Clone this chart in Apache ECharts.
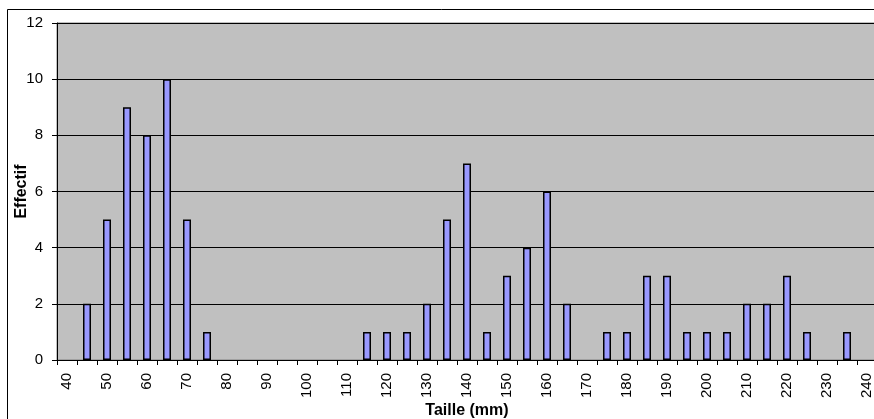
<!DOCTYPE html>
<html>
<head>
<meta charset="utf-8">
<script src="https://cdn.jsdelivr.net/npm/echarts@6/dist/echarts.min.js"></script>
<style>html,body{margin:0;padding:0;background:#fff;}#c{width:874px;height:419px;}</style>
</head>
<body>
<div id="c"></div>
<script>
const categories = ['40','45','50','55','60','65','70','75','80','85','90','95','100','105','110','115','120','125','130','135','140','145','150','155','160','165','170','175','180','185','190','195','200','205','210','215','220','225','230','235','240'];
const effectif = [0,2,5,9,8,10,5,1,0,0,0,0,0,0,0,1,1,1,2,5,7,1,3,4,6,2,0,1,1,3,3,1,1,1,2,2,3,1,0,1,0];
const yTicks = {min:0, max:12, interval:2};

const FONT = 'Liberation Sans, Arial, sans-serif';
const chart = echarts.init(document.getElementById('c'), null, {renderer:'canvas'});
chart.setOption({
  backgroundColor:'#ffffff',
  animation:false,
  textStyle:{fontFamily:FONT},
  graphic:[{type:'rect', shape:{x:7.5, y:9.5, width:900, height:430}, style:{fill:null, stroke:'#000', lineWidth:1}, z:-10}],
  grid:{left:57, top:23, right:-3, bottom:59, containLabel:false, outerBoundsMode:'none', show:true, backgroundColor:'#C0C0C0', borderColor:'#808080', borderWidth:1},
  xAxis:{
    type:'category', data:categories, boundaryGap:true,
    name:'Taille (mm)', nameLocation:'middle', nameGap:43, nameMoveOverlap:false,
    nameTextStyle:{fontWeight:'bold', fontSize:16, color:'#000', fontFamily:FONT},
    axisLine:{lineStyle:{color:'#000', width:1}},
    axisTick:{show:true, interval:0, length:5, lineStyle:{color:'#000'}},
    axisLabel:{interval:1, rotate:90, margin:13, fontSize:15, color:'#000', fontFamily:FONT},
    splitLine:{show:false}
  },
  yAxis:{
    type:'value', min:yTicks.min, max:yTicks.max, interval:yTicks.interval,
    name:'Effectif', nameLocation:'middle', nameGap:27, nameRotate:90, nameMoveOverlap:false,
    nameTextStyle:{fontWeight:'bold', fontSize:16, color:'#000', fontFamily:FONT},
    axisLine:{show:true, lineStyle:{color:'#000', width:1}},
    axisTick:{show:true, length:5, lineStyle:{color:'#000'}},
    axisLabel:{margin:14, fontSize:15, color:'#000', fontFamily:FONT},
    splitLine:{show:true, lineStyle:{color:'#000', width:1}}
  },
  series:[{
    type:'bar', data:effectif.map(v => v === 0 ? null : v), barWidth:8,
    itemStyle:{color:'#9999FF', borderColor:'#000', borderWidth:1.5}
  }]
});
</script>
</body>
</html>
